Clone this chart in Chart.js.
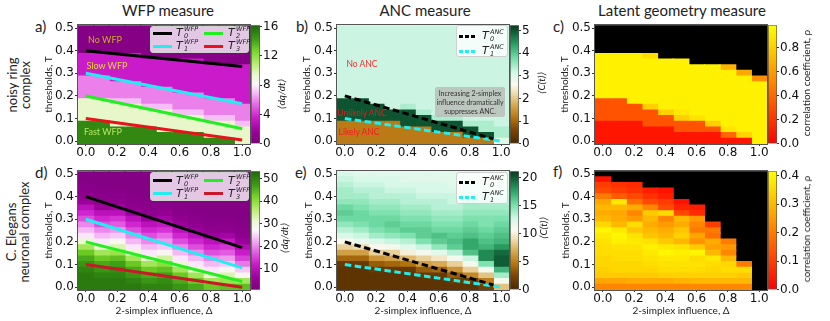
<!DOCTYPE html>
<html>
<head>
<meta charset="utf-8">
<script src="https://cdn.jsdelivr.net/npm/chart.js@4.4.1/dist/chart.umd.min.js"></script>
<style>
body { margin: 0; background: #fff; }
#fig { position: relative; width: 830px; height: 321px; overflow: hidden; font-family: Lato, "DejaVu Sans", sans-serif; color: #222; }
#fig canvas { position: absolute; }
.t { position: absolute; white-space: nowrap; }
.title { font-size: 15px; line-height: 15px; top: 3px; transform: translateX(-50%); }
.letter { font-size: 15px; line-height: 15px; }
.rot { font-size: 13px; line-height: 13px; text-align: center; transform: translate(-50%, -50%) rotate(-90deg); }
.cbl { font-size: 10px; line-height: 10px; transform: translate(-50%, -50%) rotate(-90deg); }
.ann { font-size: 9px; line-height: 9px; transform: translate(-50%, -50%); }
.leg { position: absolute; background: rgba(255,255,255,0.78); border: 1px solid #cfcfcf; border-radius: 3px; box-sizing: border-box; }
.sw { position: absolute; height: 3px; }
.dash { background: repeating-linear-gradient(90deg, var(--c) 0 4px, transparent 4px 6px); }
.lab { position: absolute; width: 24px; height: 13px; font-family: "DejaVu Sans", sans-serif; }
.lab i { position: absolute; left: 0; top: 0; font-size: 11px; line-height: 11px; }
.lab .sup, .lab .sub { position: absolute; left: 8px; font-style: italic; font-size: 6.5px; line-height: 7px; }
.lab .sup { top: -1px; }
.lab .sub { top: 6px; }
.note { position: absolute; background: rgba(185,190,185,0.85); border-radius: 2px; font-size: 7px; line-height: 9px; text-align: center; color: #333; box-sizing: border-box; padding-top: 2px; }
</style>
</head>
<body>
<div id="fig">
  <div class="t title" style="left:168px">WFP measure</div>
  <div class="t title" style="left:425px">ANC measure</div>
  <div class="t title" style="left:682px">Latent geometry measure</div>

  <div class="t rot" style="left:19px;top:85px">noisy ring<br>complex</div>
  <div class="t rot" style="left:18px;top:232px">C. Elegans<br>neuronal complex</div>

  <div class="t letter" style="left:35px;top:19px">a)</div>
  <div class="t letter" style="left:296px;top:19px">b)</div>
  <div class="t letter" style="left:553px;top:19px">c)</div>
  <div class="t letter" style="left:35px;top:165px">d)</div>
  <div class="t letter" style="left:295px;top:165px">e)</div>
  <div class="t letter" style="left:553px;top:164px">f)</div>
</div>

<script>
// grid axes
const deltas = [0, 0.1, 0.2, 0.3, 0.4, 0.5, 0.6, 0.7, 0.8, 0.9, 1.0];
const thresholds = [0.5, 0.475, 0.45, 0.425, 0.4, 0.375, 0.35, 0.325, 0.3, 0.275, 0.25,
                    0.225, 0.2, 0.175, 0.15, 0.125, 0.1, 0.075, 0.05, 0.025, 0];
const xTicks = [0, 0.2, 0.4, 0.6, 0.8, 1.0];
const yTicks = [0, 0.1, 0.2, 0.3, 0.4, 0.5];

// one inner array per Δ column, thresholds from 0.5 down to 0
const wfpRing = [
  [0.5,0.5,0.5,0.5,0.5,3.5,3.5,3.5,3.5,5.8,5.8,5.8,5.8,9.5,9.5,9.5,9.5,15,15,15,15],
  [0.5,0.5,0.5,0.5,0.5,3.5,3.5,3.5,3.5,5.8,5.8,5.8,5.8,9.5,9.5,9.5,9.5,15,15,15,15],
  [0.5,0.5,0.5,0.5,0.5,3.5,3.5,3.5,3.5,3.5,5.8,5.8,5.8,7,9.5,9.5,9.5,9.5,15,15,15],
  [0.5,0.5,0.5,0.5,0.5,3.5,3.5,3.5,3.5,3.5,5.8,5.8,5.8,7,9.5,9.5,9.5,9.5,15,15,15],
  [0.5,0.5,0.5,0.5,0.5,0.5,3.5,3.5,3.5,3.5,3.5,5.8,5.8,5.8,7,9.5,9.5,9.5,15,15,15],
  [0.5,0.5,0.5,0.5,0.5,0.5,3.5,3.5,3.5,3.5,3.5,5.8,5.8,5.8,7,9.5,9.5,9.5,9.5,15,15],
  [0.5,0.5,0.5,0.5,0.5,0.5,3.5,3.5,3.5,3.5,3.5,3.5,5.8,5.8,5.8,7,9.5,9.5,9.5,15,15],
  [0.5,0.5,0.5,0.5,0.5,0.5,3.5,3.5,3.5,3.5,3.5,3.5,5.8,5.8,5.8,7,9.5,9.5,9.5,15,15],
  [0.5,0.5,0.5,0.5,0.5,0.5,0.5,3.5,3.5,3.5,3.5,3.5,3.5,5.8,5.8,5.8,7,9.5,9.5,9.5,15],
  [0.5,0.5,0.5,0.5,0.5,0.5,0.5,3.5,3.5,3.5,3.5,3.5,3.5,5.8,5.8,5.8,7,9.5,9.5,9.5,15],
  [0.5,0.5,0.5,0.5,0.5,0.5,0.5,3.5,3.5,3.5,3.5,3.5,3.5,3.5,5.8,5.8,5.8,7,9.5,9.5,9.5]
];
const ancRing = [
  [3.2,3.2,3.2,3.2,3.2,3.2,3.2,3.2,3.2,3.2,3.2,3.2,3.2,5,5,5,5,1.2,1.2,1.2,1.2],
  [3.2,3.2,3.2,3.2,3.2,3.2,3.2,3.2,3.2,3.2,3.2,3.2,3.2,5,5,5,5,1.2,1.2,1.2,1.2],
  [3.2,3.2,3.2,3.2,3.2,3.2,3.2,3.2,3.2,3.2,3.2,3.2,3.2,3.2,5,5,5,1.2,1.2,1.2,1.2],
  [3.2,3.2,3.2,3.2,3.2,3.2,3.2,3.2,3.2,3.2,3.2,3.2,3.2,3.2,3.2,5,5,1.2,1.2,1.2,1.2],
  [3.2,3.2,3.2,3.2,3.2,3.2,3.2,3.2,3.2,3.2,3.2,3.2,3.2,3.2,3.4,5,5,5,1.2,1.2,1.2],
  [3.2,3.2,3.2,3.2,3.2,3.2,3.2,3.2,3.2,3.2,3.2,3.2,3.2,3.2,3.2,3.4,5,5,1.2,1.2,1.2],
  [3.2,3.2,3.2,3.2,3.2,3.2,3.2,3.2,3.2,3.2,3.2,3.2,3.2,3.2,3.2,3.2,3.4,5,5,1.2,1.2],
  [3.2,3.2,3.2,3.2,3.2,3.2,3.2,3.2,3.2,3.2,3.2,3.2,3.2,3.2,3.2,3.2,3.4,5,5,1.2,1.2],
  [3.2,3.2,3.2,3.2,3.2,3.2,3.2,3.2,3.2,3.2,3.2,3.2,3.2,3.2,3.2,3.2,3.2,3.4,5,5,1.2],
  [3.2,3.2,3.2,3.2,3.2,3.2,3.2,3.2,3.2,3.2,3.2,3.2,3.2,3.2,3.2,3.2,3.2,3.4,3.4,5,1.2],
  [3.2,3.2,3.2,3.2,3.2,3.2,3.2,3.2,3.2,3.2,3.2,3.2,3.2,3.2,3.2,3.2,3.2,3.2,3.4,3.4,3.0]
];
const geoRing = [
  [null,null,null,null,null,0.93,0.93,0.93,0.93,0.93,0.93,0.93,0.93,0.32,0.32,0.32,0.32,0.08,0.08,0.08,0.08],
  [null,null,null,null,null,0.93,0.93,0.93,0.93,0.93,0.93,0.93,0.93,0.32,0.32,0.32,0.32,0.08,0.08,0.08,0.08],
  [null,null,null,null,null,0.93,0.93,0.93,0.93,0.93,0.93,0.93,0.93,0.93,0.32,0.32,0.32,0.08,0.08,0.08,0.08],
  [null,null,null,null,null,0.85,0.93,0.93,0.93,0.93,0.93,0.93,0.93,0.93,0.8,0.32,0.32,0.32,0.08,0.08,0.08],
  [null,null,null,null,null,null,0.93,0.93,0.93,0.93,0.93,0.93,0.93,0.93,0.93,0.8,0.32,0.32,0.08,0.08,0.08],
  [null,null,null,null,null,null,0.93,0.93,0.93,0.93,0.93,0.93,0.93,0.93,0.93,0.9,0.8,0.32,0.32,0.08,0.08],
  [null,null,null,null,null,null,null,0.93,0.93,0.93,0.93,0.93,0.93,0.93,0.93,0.93,0.88,0.32,0.32,0.08,0.08],
  [null,null,null,null,null,null,null,0.93,0.93,0.93,0.93,0.93,0.93,0.93,0.93,0.93,0.93,0.8,0.32,0.08,0.08],
  [null,null,null,null,null,null,null,0.7,0.93,0.93,0.93,0.93,0.93,0.93,0.93,0.93,0.93,0.93,0.88,0.4,0.08],
  [null,null,null,null,null,null,null,null,0.65,0.93,0.93,0.93,0.93,0.93,0.93,0.93,0.93,0.93,0.93,0.82,0.08],
  [null,null,null,null,null,null,null,null,null,0.55,0.93,0.93,0.93,0.93,0.93,0.93,0.93,0.93,0.93,0.93,0.93]
];
const wfpElegans = [
  [2,2,2.5,3,4,6,10,13,16,20,23,26,31,38,43,46,48,50,51,51,51],
  [2,2,2,2.5,3,4,6,10,13,16,20,23,26,31,38,43,46,48,50,51,51],
  [2,2,2,2.5,3,4,7,10,14,17,21,24,28,33,39,44,47,49,50,51,51],
  [2,2,2,2,2.5,3,4,6,10,13,16,20,23,26,31,38,43,46,48,50,51],
  [2,2,2,2,2,2.5,3,4,6,10,13,16,20,23,26,31,38,43,46,48,50],
  [2,2,2,2,2,2.5,3,5,7,11,14,18,21,24,28,34,40,44,47,49,50],
  [2,2,2,2,2,2,2.5,3,4,6,10,13,16,20,23,26,31,38,43,46,48],
  [2,2,2,2,2,2,2,2.5,3,4,6,10,13,16,20,23,26,31,38,43,46],
  [2,2,2,2,2,2,2,2,2.5,3,4,6,10,13,16,20,23,26,31,38,43],
  [2,2,2,2,2,2,2,2,2.5,3,4,7,11,14,17,21,24,28,33,39,44],
  [2,2,2,2,2,2,2,2,2,2.5,3,4,6,9,12,15,19,24,28,38,44]
];
const ancElegans = [
  [12.5,13,13.5,14,14,14.5,15.5,16,15.5,14.5,13.5,12.5,10.5,8.5,6.5,4,1.5,1,1,1,1],
  [12,12.5,13,13.5,14,14.5,15,15.5,15.5,15,14,13,11.5,9,6.5,4,1.5,1,1,1,1],
  [12,12.5,13,13.5,13.5,14,14.5,15,15.5,15.5,15,14,12.5,10.5,8.5,6,3.5,1.5,1,1,1],
  [12,12.5,12.5,13,13.5,14,14.5,15,15.5,16,15.5,14.5,13,11,8.5,6.5,4,1.5,1,1,1],
  [12,12,12.5,13,13.5,13.5,14,14.5,15,15.5,16,15,13.5,12,10,7.5,4.5,1.5,1,1,1],
  [12,12,12.5,12.5,13,13.5,14,14.5,15,15.5,16,16,15,13,11,8.5,6.5,3.5,1.5,1,1],
  [12,12,12.5,12.5,13,13.5,13.5,14,14.5,15,15.5,16.5,16,14.5,12,9.5,7,4,1.5,1,1],
  [12,12,12,12.5,13,13,13.5,14,14.5,15,15.5,16,16.5,16,13.5,11,8.5,6,3.5,1.5,1],
  [12.5,12.5,13,13,13.5,14,14,14.5,15,15.5,16,16.5,17.5,17.5,16.5,13,11,8.5,5.5,1.5,1],
  [12,12,12.5,12.5,13,13.5,14,14.5,15,15,15.5,16,16.5,17,18.5,18.5,15,11,8,5,2],
  [12,12,12.5,13,13,13.5,14,14.5,15,15.5,16,16.5,17,18,19.5,20,20,17,14,11,8]
];
const geoElegans = [
  [null,0.03,0.1,0.12,0.2,0.27,0.3,0.28,0.3,0.35,0.4,0.38,0.37,0.36,0.36,0.35,0.35,0.34,0.33,0.27,0.22],
  [null,null,0.08,0.1,0.15,0.38,0.3,0.27,0.28,0.3,0.38,0.4,0.39,0.37,0.36,0.36,0.35,0.35,0.33,0.27,0.22],
  [null,null,0.07,0.08,0.12,0.18,0.28,0.22,0.25,0.36,0.32,0.37,0.38,0.37,0.36,0.36,0.35,0.35,0.33,0.28,0.22],
  [null,null,null,0.05,0.08,0.12,0.22,0.33,0.3,0.28,0.3,0.32,0.37,0.39,0.38,0.37,0.36,0.35,0.33,0.28,0.22],
  [null,null,null,0.03,0.05,0.1,0.12,0.36,0.22,0.25,0.28,0.3,0.33,0.38,0.4,0.38,0.37,0.36,0.34,0.28,0.22],
  [null,null,null,null,null,0.03,0.06,0.12,0.3,0.28,0.32,0.34,0.3,0.37,0.39,0.38,0.37,0.36,0.34,0.29,0.22],
  [null,null,null,null,null,null,0.05,0.07,0.25,0.22,0.2,0.27,0.24,0.33,0.4,0.36,0.37,0.36,0.34,0.3,0.22],
  [null,null,null,null,null,null,null,null,null,0.1,0.2,0.18,0.28,0.26,0.3,0.38,0.36,0.35,0.34,0.3,0.22],
  [null,null,null,null,null,null,null,null,null,null,null,null,0.2,0.25,0.22,0.3,0.35,0.36,0.34,0.3,0.22],
  [null,null,null,null,null,null,null,null,null,null,null,null,null,null,null,null,0.2,0.36,0.33,0.3,0.22],
  [null,null,null,null,null,null,null,null,null,null,null,null,null,null,null,null,null,null,null,null,null]
];

// threshold lines: [T at start, T at end] and the Δ span they cover
const wfpRingLines = [[0.40, 0.33], [0.30, 0.165], [0.20, 0.055], [0.10, 0.005]];
const wfpElegansLines = [[0.40, 0.175], [0.30, 0.085], [0.20, 0.025], [0.10, 0.0]];
const wfpLineSpan = [[0, 1], [0, 1], [0, 1], [0, 1]];
const ancRingLines = [[0.20, 0.01], [0.10, 0.0]];
const ancElegansLines = [[0.20, 0.01], [0.10, 0.0]];
const ancLineSpan = [[0, 0.95], [0, 1]];

// colour bar ranges and ticks
const wfpRingRange = [0, 16.2], wfpRingTicks = [0, 4, 8, 12, 16];
const wfpElegansRange = [0.6, 53.4], wfpElegansTicks = [10, 20, 30, 40, 50];
const ancRingRange = [0, 5.23], ancRingTicks = [0, 1, 2, 3, 4, 5];
const ancElegansRange = [0, 21.2], ancElegansTicks = [0, 5, 10, 15, 20];
const geoRingRange = [0, 0.985], geoRingTicks = [0, 0.2, 0.4, 0.6, 0.8];
const geoElegansRange = [0, 0.415], geoElegansTicks = [0, 0.1, 0.2, 0.3, 0.4];

// colour maps
const wfpStops = [[0,'#7c007c'],[0.1,'#9a009a'],[0.22,'#cc1ccc'],[0.34,'#e870e8'],[0.44,'#f6c6f6'],
  [0.5,'#fdf5fd'],[0.58,'#eaf8d0'],[0.68,'#b6ec6c'],[0.78,'#78d628'],[0.88,'#3e9e16'],[1,'#1e640a']];
const ancStops = [[0,'#4a2800'],[0.12,'#7c4604'],[0.22,'#b7760f'],[0.33,'#d8aa55'],[0.43,'#f0dfb4'],
  [0.5,'#fbf9f0'],[0.6,'#d4f8e8'],[0.72,'#74dea8'],[0.84,'#2aa062'],[0.93,'#12643a'],[1,'#073a20']];
const autumnStops = [[0,'#ff0000'],[1,'#ffff00']];

function hexRgb(h) {
  return [parseInt(h.slice(1,3),16), parseInt(h.slice(3,5),16), parseInt(h.slice(5,7),16)];
}
function colorAt(stops, t) {
  t = Math.max(0, Math.min(1, t));
  for (let i = 1; i < stops.length; i++) {
    if (t <= stops[i][0]) {
      const a = hexRgb(stops[i-1][1]), b = hexRgb(stops[i][1]);
      const f = (t - stops[i-1][0]) / (stops[i][0] - stops[i-1][0]);
      return 'rgb(' + a.map((v, k) => Math.round(v + (b[k] - v) * f)).join(',') + ')';
    }
  }
  return stops[stops.length-1][1];
}

Chart.defaults.font.family = "'DejaVu Sans', sans-serif";
Chart.defaults.font.size = 12;
Chart.defaults.color = '#111';
Chart.defaults.animation = false;
Chart.defaults.plugins.legend.display = false;
Chart.defaults.plugins.tooltip.enabled = false;

const fig = document.getElementById('fig');

function addCanvas(left, top, w, h) {
  const c = document.createElement('canvas');
  c.width = w; c.height = h;
  c.style.left = left + 'px'; c.style.top = top + 'px';
  c.style.width = w + 'px'; c.style.height = h + 'px';
  fig.appendChild(c);
  return c;
}

// plot frame, optional background for masked cells
const frame = {
  id: 'frame',
  beforeDatasetsDraw(chart, args, o) {
    if (!o.fill) return;
    const a = chart.chartArea;
    chart.ctx.save();
    chart.ctx.fillStyle = o.fill;
    chart.ctx.fillRect(a.left, a.top, a.width, a.height);
    chart.ctx.restore();
  },
  afterDraw(chart, args, o) {
    const a = chart.chartArea, ctx = chart.ctx;
    ctx.save();
    ctx.strokeStyle = o.color || '#555';
    ctx.lineWidth = 1;
    ctx.strokeRect(Math.round(a.left) - 0.5, Math.round(a.top) - 0.5, Math.round(a.width) + 1, Math.round(a.height) + 1);
    ctx.restore();
  }
};

const tickGrid = { display: true, drawOnChartArea: false, drawTicks: true, tickLength: 3, color: '#333', offset: false };
const axisTitleFont = { family: 'Lato', size: 10 };

function heatmap(p) {
  const [pl, pt, pr, pb] = p.box;
  const left = p.titleX - 6, top = pt - 8;
  const xh = p.xTitle ? 27 : 16;
  const canvas = addCanvas(left, top, pr + 12 - left, pb + xh - top);
  const half = (thresholds[0] - thresholds[1]) / 2;

  const datasets = p.grid.map((col, c) => {
    const data = [], colors = [];
    col.forEach((v, i) => {
      if (v === null) return;
      data.push({ x: deltas[c], y: [thresholds[i] - half, thresholds[i] + half] });
      colors.push(colorAt(p.stops, (v - p.range[0]) / (p.range[1] - p.range[0])));
    });
    return { type: 'bar', order: 2, data, backgroundColor: colors, borderWidth: 0,
             grouped: false, barPercentage: 1, categoryPercentage: 1, inflateAmount: 0.6 };
  });
  p.lines.forEach((ln, k) => {
    datasets.push({
      type: 'line', order: 0,
      data: [{ x: p.span[k][0], y: ln[0] }, { x: p.span[k][1], y: ln[1] }],
      borderColor: p.lineColors[k], borderWidth: 3, borderDash: p.dash || [],
      borderCapStyle: 'butt', pointRadius: 0, fill: false
    });
  });

  new Chart(canvas, {
    type: 'bar',
    data: { datasets },
    options: {
      responsive: false,
      layout: { padding: { top: 8, right: 12, left: 0, bottom: 0 } },
      scales: {
        x: {
          type: 'linear', min: -0.05, max: 1.05, offset: false,
          afterBuildTicks: s => { s.ticks = xTicks.map(v => ({ value: v })); },
          afterFit: s => { s.height = xh; },
          ticks: { callback: v => v.toFixed(1), padding: 0, maxRotation: 0, autoSkip: false },
          grid: Object.assign({}, tickGrid, { tickLength: 2 }),
          border: { display: false },
          title: { display: !!p.xTitle, text: '2-simplex influence, Δ', font: axisTitleFont, padding: 0, color: '#222' }
        },
        y: {
          type: 'linear', min: -0.0125, max: 0.5125,
          afterBuildTicks: s => { s.ticks = yTicks.map(v => ({ value: v })); },
          afterFit: s => { s.width = pl - left; },
          ticks: { callback: v => v.toFixed(1), padding: 1 },
          grid: tickGrid,
          border: { display: false },
          title: { display: true, text: 'thresholds, T', font: axisTitleFont, padding: 0, color: '#222' }
        }
      },
      plugins: { frame: { fill: p.bg || null, color: '#555' } }
    },
    plugins: [frame]
  });
}

function colorbar(p) {
  const [l, r] = p.cb;
  const top = p.box[1] - 8;
  const canvas = addCanvas(l, top, r - l + p.cbW, p.box[3] - p.box[1] + 16);
  const stops = p.stops;
  new Chart(canvas, {
    type: 'bar',
    data: {
      labels: [''],
      datasets: [{
        data: [p.range],
        backgroundColor: ctx => {
          const a = ctx.chart.chartArea;
          if (!a) return '#fff';
          const g = ctx.chart.ctx.createLinearGradient(0, a.bottom, 0, a.top);
          stops.forEach(s => g.addColorStop(s[0], s[1]));
          return g;
        },
        borderColor: '#555', borderWidth: 1, borderSkipped: false,
        barPercentage: 1, categoryPercentage: 1
      }]
    },
    options: {
      responsive: false,
      layout: { padding: { top: 8, bottom: 8, left: 0, right: 0 } },
      scales: {
        x: { display: false },
        y: {
          position: 'right', min: p.range[0], max: p.range[1],
          afterBuildTicks: s => { s.ticks = p.cbTicks.map(v => ({ value: v })); },
          afterFit: s => { s.width = p.cbW; },
          ticks: { callback: p.fmt, padding: 1 },
          grid: { display: true, drawOnChartArea: false, tickLength: 2, color: '#333' },
          border: { display: false }
        }
      }
    }
  });
}

const intFmt = v => String(v);
const decFmt = v => v.toFixed(1);
const wfpColors = ['#000000', '#22eef0', '#22ee22', '#e8141c'];
const wfpColorsB = ['#000000', '#22eef0', '#22ee22', '#c8182a'];
const ancColors = ['#000000', '#22eef0'];

const panels = [
  { box: [78, 25, 250, 144], titleX: 49, grid: wfpRing, stops: wfpStops, range: wfpRingRange,
    lines: wfpRingLines, span: wfpLineSpan, lineColors: wfpColors,
    cb: [251, 260], cbW: 26, cbTicks: wfpRingTicks, fmt: intFmt },
  { box: [337, 25, 509, 144], titleX: 307, grid: ancRing, stops: ancStops, range: ancRingRange,
    lines: ancRingLines, span: ancLineSpan, lineColors: ancColors, dash: [6.5, 3.5],
    cb: [510, 519], cbW: 18, cbTicks: ancRingTicks, fmt: intFmt },
  { box: [595, 25, 767, 144], titleX: 565, grid: geoRing, stops: autumnStops, range: geoRingRange,
    lines: [], span: [], lineColors: [], bg: '#000',
    cb: [768, 777], cbW: 28, cbTicks: geoRingTicks, fmt: decFmt },
  { box: [78, 171, 250, 290], titleX: 49, grid: wfpElegans, stops: wfpStops, range: wfpElegansRange,
    lines: wfpElegansLines, span: wfpLineSpan, lineColors: wfpColorsB, xTitle: true,
    cb: [251, 260], cbW: 26, cbTicks: wfpElegansTicks, fmt: intFmt },
  { box: [337, 171, 509, 290], titleX: 309, grid: ancElegans, stops: ancStops, range: ancElegansRange,
    lines: ancElegansLines, span: ancLineSpan, lineColors: ancColors, dash: [6.5, 3.5], xTitle: true,
    cb: [510, 519], cbW: 26, cbTicks: ancElegansTicks, fmt: intFmt },
  { box: [595, 171, 767, 290], titleX: 566, grid: geoElegans, stops: autumnStops, range: geoElegansRange,
    lines: [], span: [], lineColors: [], bg: '#000', xTitle: true,
    cb: [768, 777], cbW: 28, cbTicks: geoElegansTicks, fmt: decFmt }
];

panels.forEach(p => { heatmap(p); colorbar(p); });

// overlay texts: legends, annotations, colour bar labels
function add(html) { fig.insertAdjacentHTML('beforeend', html); }
function lab(x, y, sup, sub) {
  return '<div class="lab" style="left:' + x + 'px;top:' + (y - 6) + 'px"><i>T</i>' +
         '<span class="sup">' + sup + '</span><span class="sub">' + sub + '</span></div>';
}
function sw(x0, x1, y, color, dashed) {
  return '<div class="sw' + (dashed ? ' dash' : '') + '" style="left:' + x0 + 'px;top:' + (y - 1.5) +
         'px;width:' + (x1 - x0) + 'px;' + (dashed ? '--c:' + color : 'background:' + color) + '"></div>';
}

// WFP legends
[[25.5, 27, 33, 46, wfpColors], [172, 29, 180.5, 193.5, wfpColorsB]].forEach(([top, h, r1, r2, cols]) => {
  add('<div class="leg" style="left:150px;top:' + top + 'px;width:99px;height:' + h + 'px"></div>');
  add(sw(153, 172, r1, cols[0]) + lab(176, r1, 'WFP', '0'));
  add(sw(153, 172, r2, cols[1]) + lab(176, r2, 'WFP', '1'));
  add(sw(204, 223, r1, cols[2]) + lab(228, r1, 'WFP', '2'));
  add(sw(204, 223, r2, cols[3]) + lab(228, r2, 'WFP', '3'));
});
// ANC legends
[[25, 36, 51], [172, 182, 197]].forEach(([top, r1, r2]) => {
  add('<div class="leg" style="left:456px;top:' + top + 'px;width:52px;height:32px"></div>');
  add(sw(459, 477, r1, '#000', true) + lab(482, r1, 'ANC', '0'));
  add(sw(459, 477, r2, '#22eef0', true) + lab(482, r2, 'ANC', '1'));
});

add('<div class="t ann" style="left:105px;top:39px;color:#c8b21e">No WFP</div>');
add('<div class="t ann" style="left:107px;top:65px;color:#e6dc2a">Slow WFP</div>');
add('<div class="t ann" style="left:103px;top:131px;color:#b4e464">Fast WFP</div>');
add('<div class="t ann" style="left:362px;top:64px;color:#f03030;font-size:8.5px">No ANC</div>');
add('<div class="t ann" style="left:362px;top:113px;color:#d82020;font-size:8.5px">Unlikely ANC</div>');
add('<div class="t ann" style="left:359px;top:132px;color:#f02020;font-size:8.5px">Likely ANC</div>');
add('<div class="note" style="left:435px;top:87px;width:70px;height:30px">Increasing 2-simplex<br>influence dramatically<br>suppresses ANC.</div>');

add('<div class="t cbl" style="left:281px;top:94px"><i>⟨dq/dt⟩</i></div>');
add('<div class="t cbl" style="left:284px;top:238px"><i>⟨dq/dt⟩</i></div>');
add('<div class="t cbl" style="left:541px;top:83px"><i>⟨C(t)⟩</i></div>');
add('<div class="t cbl" style="left:543px;top:228px"><i>⟨C(t)⟩</i></div>');
add('<div class="t cbl" style="left:806px;top:83px">correlation coefficient, ρ</div>');
add('<div class="t cbl" style="left:806px;top:229px">correlation coefficient, ρ</div>');
</script>
</body>
</html>
